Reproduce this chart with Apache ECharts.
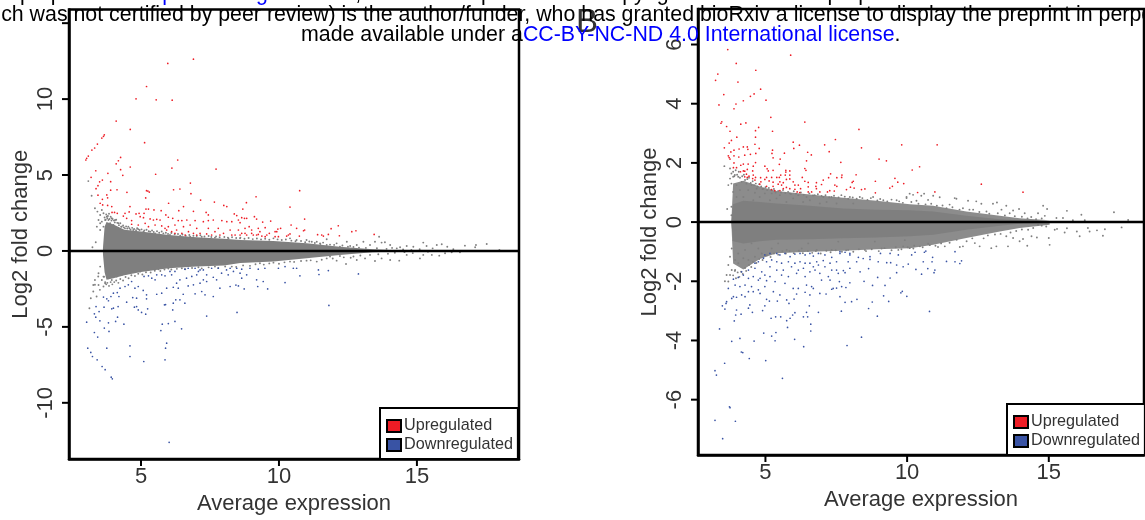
<!DOCTYPE html>
<html><head><meta charset="utf-8">
<style>html,body{margin:0;padding:0;background:#fff}#c{width:1145px;height:520px}</style>
<script src="https://cdn.jsdelivr.net/npm/echarts@6/dist/echarts.min.js"></script>
</head><body><div id="c"></div>
<script>
// ---- tick values
const aTicksX=[5,10,15], aTicksY=[-10,-5,0,5,10,15], aLabelsY=[-10,-5,0,5,10];
const bTicksX=[5,10,15], bTicksY=[-6,-4,-2,0,2,4,6], bLabelsY=[-6,-4,-2,0,2,4,6];
// ---- panel A: dense grey cloud, envelope
const aCoreX=[3.62,3.68,3.75,4.0,4.4,5,6,7,8,8.6,9.8,11,12.2,13.4,14.6];
const aCoreUp=[.2,1.6,1.9,1.75,1.4,1.28,1.05,.9,.8,.72,.66,.5,.28,.11,.02];
const aCoreLow=[-.2,-1.4,-1.9,-1.8,-1.6,-1.38,-1.14,-1.03,-.95,-.8,-.7,-.48,-.26,-.09,-.02];
const aGrey=[[3.09,4.6],[3.21,3.64],[3.33,2.81],[3.42,2.59],[3.46,2.04],[3.4,1.6],[3.52,1.38],[3.36,.57],[3.24,.24],[3.58,2.7],[3.64,2.48],[3.52,2.37],[3.7,2.04],[3.58,1.93],[3.52,1.82],[3.76,2.26],[3.82,2.04],[3.94,2.15],[4.06,2.04],[4.18,1.82],[3.64,1.6],[3.88,1.82],[4,1.71],[4.3,1.6],[4.42,1.49],[4.54,1.6],[4.72,1.38],[4.9,1.43],[5.09,1.27],[5.33,1.27],[5.51,1.16],[5.81,1.16],[6.05,1.05],[6.42,1.01],[6.78,.94],[7.2,.94],[7.68,.88],[8.17,.83],[8.59,.83],
[3.52,-1.03],[3.46,-1.47],[3.33,-1.91],[3.27,-2.24],[3.46,-2.24],[3.58,-1.91],[3.64,-1.69],[3.7,-2.13],[3.82,-1.8],[3.94,-1.91],[4.12,-1.69],[4.3,-1.58],[4.48,-1.47],[4.72,-1.36],[4.97,-1.36],[5.27,-1.25],[5.63,-1.2],[5.99,-1.16],[6.48,-1.14],[7.08,-1.07],[7.68,-1.03],[8.29,-1.03],[3.45,-1.68],[3.33,-2.23],[3.27,-2.67],[3.18,-3.11],[3.13,-3.77],[3.51,-2.56],[3.39,-3],[3.64,-2.34],
[11,.72],[11.37,.61],[11.73,.77],[12.09,.5],[12.46,.61],[12.82,.39],[13.06,.61],[13.3,.39],[13.63,.94],[13.48,.61],[13.72,.55],[13.84,.57],[14.03,.39],[14.27,.17],[14.39,.24],[14.63,.33],[14.87,.28],[15.23,.55],[15.35,.33],[15.57,.17],[15.72,.39],[15.9,.44],[16.1,.28],[16.32,.11],[16.74,.35],[17.11,.24],[17.14,.39],[17.53,.46],[17.99,.06],[16.56,-.09],[12.58,.33],[12.21,.28],[11.73,.39],[11.49,.5],[11.19,.61],[10.64,.72],[10.4,.83],[9.8,.83],
[11,-.64],[11.37,-.7],[11.73,-.49],[12.09,-.64],[12.43,-.86],[12.82,-.6],[13.12,-.49],[13.48,-.66],[13.72,-.49],[14.03,-.6],[14.36,-.64],[14.63,-.26],[15.11,-.49],[15.23,-.26],[15.54,-.26],[15.81,-.31],[16.02,-.15],[16.26,-.09],[12.7,-.37],[12.21,-.33],[11.85,-.37],[10.4,-.7],[9.8,-.77],[9.31,-.81]];
const aGreyEdge=[[3.68,2.2],[3.72,2.05],[3.74,2.4],[3.78,2.15],[3.8,2.3],[3.84,2.45],[3.86,2.1],[3.9,2.25],[3.93,2],[3.97,2.1],[4.02,2],[4.05,1.88],[4.1,2.05],[4.14,1.85],[4.2,1.7],[4.25,1.82],[4.28,1.6],[4.35,1.68],[4.38,1.55],[4.46,1.62],[4.5,1.48],[4.58,1.5],[4.62,1.4],[4.68,1.52],[4.75,1.45],[4.82,1.36],[4.86,1.5],[4.95,1.38],[5.02,1.42],[5.12,1.35],[5.2,1.4],[5.28,1.3],[5.4,1.35],[5.46,1.25],[5.58,1.3],[5.66,1.2],[5.75,1.28],[5.9,1.2],[5.98,1.12],[6.1,1.18],[6.22,1.1],[6.34,1.12],[6.5,1.08],[6.62,1],[6.75,1.05],[6.9,1],[7.02,.98],[7.15,1.03],[7.3,.95],[7.45,.98],[7.55,.92],[7.72,.95],[7.85,.9],[8.02,.92],[8.15,.88],[8.3,.9],[8.45,.85],[8.6,.88],[8.75,.8],[8.9,.85],[9.05,.78],[9.2,.82],[9.35,.76],[9.5,.8],[9.65,.74],[9.95,.76],[10.1,.72],[10.25,.75],[10.45,.68],[10.6,.64],[10.8,.66],[10.95,.58],[11.1,.62],[11.3,.52],[11.5,.46],[11.6,.55],[11.85,.42],[12,.4],[12.3,.36],[12.5,.28],[12.7,.26],[12.9,.22],[13.15,.2],[13.55,.18],[13.9,.14],[14.1,.2],[14.5,.1],[14.8,.06],[15.1,.12],
[3.66,-1.7],[3.7,-2.05],[3.74,-2.2],[3.78,-2.1],[3.84,-2.3],[3.9,-2.05],[3.96,-2.2],[4.03,-2.05],[4.1,-1.95],[4.18,-2.1],[4.25,-1.85],[4.35,-1.95],[4.44,-1.72],[4.55,-1.8],[4.65,-1.6],[4.78,-1.65],[4.9,-1.5],[5.05,-1.55],[5.18,-1.4],[5.35,-1.42],[5.5,-1.3],[5.7,-1.32],[5.85,-1.22],[6.1,-1.22],[6.3,-1.18],[6.6,-1.2],[6.85,-1.12],[7.2,-1.15],[7.45,-1.08],[7.8,-1.12],[8.05,-1.02],[8.45,-1.05],[8.7,-.95],[8.95,-.98],[9.15,-.88],[9.45,-.9],[9.65,-.82],[10,-.84],[10.2,-.75],[10.55,-.72],[10.8,-.66],[11.15,-.62],[11.55,-.58],[11.95,-.5],[12.35,-.42],[12.6,-.45],[12.95,-.3],[13.3,-.26],[13.6,-.22],[13.95,-.18],[14.2,-.12],[14.55,-.08],[14.85,-.14],[15.4,-.06]];
const aUp=[[6.9,12.63],[5.97,12.35],[5.2,10.83],[4.82,10.02],[5.55,9.95],[6.13,9.93],[4.1,8.55],[4.61,8],[3.67,7.65],[3.64,7.55],[3.58,7.43],[5.13,7.13],[3.42,7.04],[3.32,6.78],[3.22,6.64],[3.09,6.25],[3.03,6.1],[3,5.99],[6.33,5.99],[4.26,6.16],[4.18,5.94],[4.1,5.74],[4.61,5.53],[6.12,5.46],[7.72,5.39],[4.26,5.35],[3.36,5.28],[3.8,5.11],[5.53,5.05],[4.34,4.98],[3.19,4.85],[3.6,4.67],[3.9,4.56],[3.5,4.55],[3.44,4.3],[3.37,4.1],[6.79,4.47],[3.9,4],[4.13,4.03],[4.49,3.86],[5.25,3.94],[5.3,3.88],[5.2,3.97],[6.18,4.03],[6.41,4.08],[6.81,3.77],[10.75,3.97],[9.17,3.57],[5.17,3.49],[3.44,3.67],[3.76,3.69],[3.79,3.5],[3.6,3.4],[7.16,3.35],
[3.52,3.14],[3.61,3.03],[3.79,3],[3.94,2.92],[4.04,2.54],[4.14,2.48],[3.95,2.54],[4.6,2.92],[4.57,2.57],[5.18,2.76],[5.27,2.76],[5.47,2.7],[5.73,2.65],[5.9,2.37],[6,3.14],[6.37,2.65],[6.54,2.92],[6.9,2.61],[7.36,2.54],[7.44,2.37],[7.66,3.22],[8,3],[8.11,2.92],[8.38,2.44],[8.47,2.33],[8.65,2.19],[4.42,2.48],[4.36,2.3],[4.48,2.15],[4.66,2],[4.82,2.44],[4.93,2.48],[5.11,2.48],[4.97,2.26],[5.09,2.19],[5.33,2.11],[5.45,2.04],[5.57,2.08],[5.69,2.04],[5.99,2.22],[6.15,2.15],[6.35,2],[6.48,2],[6.66,2.04],[6.96,2],[7.26,1.93],[7.44,2],[7.62,2.04],[7.93,2],[8.11,1.93],[8.29,1.93],[8.53,2.04],[8.59,1.86],[4.66,1.76],[4.9,1.71],[5.15,1.82],[5.27,1.6],[5.51,1.71],[5.75,1.65],[5.99,1.6],[6.23,1.71],[6.54,1.6],[6.78,1.71],[7.02,1.49],[7.44,1.49],[7.8,1.49],[8.23,1.38],[8.53,1.38],[5.93,1.38],[6.11,1.27],[6.29,1.38],[6.48,1.16],[6.72,1.27],[6.9,1.16],[7.14,1.16],[7.38,1.12],[7.68,1.27],[7.99,1.16],[8.29,1.05],[8.65,1.16],[5.87,1.49],[6.23,1.16],[6.6,1.05],[7.02,1.05],[7.56,1.05],[7.86,1.05],[8.41,1.05],
[8.82,3.18],[8.69,2.76],[10.4,2.89],[8.75,2.15],[9.11,2.26],[8.83,2.15],[9.19,2.1],[9.41,1.9],[9.7,1.97],[10.93,2.1],[10.44,1.71],[12.15,1.66],[10.64,1.49],[8.92,1.6],[8.77,1.49],[9.5,1.53],[10.06,1.49],[9.96,1.44],[11.89,1.47],[10.89,1.33],[10.93,1.38],[9.01,1.38],[9.25,1.49],[9.31,1.27],[12.79,1.33],[12.64,1.27],[9.92,1.27],[9.86,1.27],[13.45,1.09],[12.19,1],[11.79,1.09],[11.4,1.07],[11.55,1.05],[11.61,.98],[10.4,1.12],[10.34,1.05],[10.74,.98],[9.65,1.16],[9.56,1.05],[8.59,1.05],[8.77,1.16],[8.83,1.05],[9.01,1.16],[9.07,1.05],[9.19,1.05],[9.25,1.09],[9.38,.98],[9.5,.94],[9.86,.94],[9.98,.94],[10.28,.98]];
const aDown=[[6.02,-12.6],[3.03,-4.69],[3.07,-6.4],[3.18,-6.68],[3.24,-6.95],[3.41,-7.17],[3.59,-7.61],[3.7,-7.82],[3.92,-8.31],[3.96,-8.42],[3.76,-6.4],[4.6,-6.25],[4.6,-6.95],[5.1,-7.28],[5.87,-7.17],[5.89,-6.4],[5.93,-6.07],[5.72,-5.24],[5.77,-4.82],[5.99,-4.78],[6.23,-4.64],[6.47,-5.13],[7.38,-4.29],[8.48,-4.05],[11.81,-3.59],[3.31,-4.14],[3.36,-4.36],[3.48,-3.99],[3.31,-5.37],[3.43,-5.67],[3.51,-4.6],[3.67,-5.08],[3.82,-4.73],[3.84,-5.3],[4.08,-4.64],[4.15,-4.36],[4.38,-4.82],[3.66,-3.7],[3.94,-3.81],[4,-3.77],[3.37,-3.66],[3.64,-3.04],[3.76,-3.15],[3.82,-3.28],[3.91,-3],[4.17,-3.66],[4.2,-3],[4.48,-3.37],[4.7,-3.07],[4.84,-3.11],[4.76,-3.7],[4.84,-3.66],[4.9,-3.88],[5.02,-4.05],[5.17,-4.16],[5.2,-3.15],[5.24,-3.81],[5.85,-3.55],[5.89,-3.53],[6.15,-3.88],[6.17,-3.44],[6.26,-3.22],[6.41,-3.22],[6.53,-2.85],[6.59,-3.44],[6.96,-2.82],[7.2,-2.67],[7.32,-2.89],[7.62,-3],[7.86,-2.45],[8.23,-2.34],[8.44,-2.25],[8.53,-2.3],[8.74,-2.5],[9.23,-2.34],[9.59,-2.5],[10.22,-2.08],[10.76,-1.64],[11.43,-1.25],[11.45,-1.55],[11.79,-1.29],[12.88,-1.51],
[4,-2.78],[4.14,-2.74],[4.24,-2.45],[4.42,-2.34],[4.54,-2.23],[4.66,-2.01],[4.78,-2.45],[4.9,-2.34],[5.08,-2.6],[5.11,-1.68],[5.27,-1.64],[5.39,-1.79],[5.51,-1.9],[5.57,-1.57],[5.75,-1.57],[5.87,-1.64],[6.05,-1.35],[6.11,-1.57],[6.23,-1.35],[6.41,-1.9],[6.59,-1.2],[6.71,-1.14],[6.96,-1.14],[7.08,-1.35],[7.26,-1.25],[7.38,-1.57],[7.56,-1.14],[7.8,-1.14],[8.23,-1.14],[8.47,-1.14],[8.65,-1.2],[8.95,-1.14],[9.25,-1.2],[9.49,-1.14],[9.98,-1.14],[10.22,-1.03],[10.52,-1.14],[10.64,-1.14],[5.93,-2.45],[6.17,-2.39],[6.35,-2.45],[6.71,-2.3],[6.9,-2.23],[7.14,-2.12],[7.38,-2.01],[7.74,-1.9],[8.16,-1.57],[8.65,-1.79],[9.19,-1.9],[9.43,-2.01],[5.2,-2.89],[5.57,-2.85],[5.75,-2.78],[7.14,-1.25],[7.26,-1.9],[7.62,-1.73],[7.92,-1.46],[8.1,-1.25],[8.35,-1.35],[8.59,-1.46],[8.83,-1.57],[6.65,-1.79],[6.84,-1.68],[7.02,-1.57],[6.29,-2.12]];
// ---- panel B
const bCoreX=[3.8,3.86,4.22,4.8,5.39,6.57,7.74,8.92,10.1,10.92,12.09,13.27,13.97,15.03];
const bOuterUp=[.1,1.3,1.4,1.2,1.05,.93,.82,.72,.6,.55,.36,.21,.13,.06];
const bInnerUp=[.05,.6,.72,.68,.63,.55,.46,.42,.4,.36,.21,.1,.05,.02];
const bOuterLow=[-.1,-1.4,-1.6,-1.25,-1.05,-1,-.97,-.92,-.88,-.77,-.54,-.32,-.2,-.09];
const bInnerLow=[-.05,-.65,-.72,-.65,-.6,-.58,-.55,-.52,-.48,-.43,-.26,-.12,-.06,-.02];
const bGrey=[[3.55,1.89],[3.75,1.81],[3.8,1.64],[3.75,1.47],[3.69,1.25],[3.86,1.53],[3.92,1.59],[4.04,1.53],[3.8,1.3],[3.98,1.25],[4.16,1.36],[4.33,1.3],[4.51,1.25],[4.69,1.13],[4.92,1.13],[3.86,1.02],[4.1,1.08],[4.39,1.08],[4.63,.99],[4.98,.97],[5.22,.97],[5.51,.91],[5.86,.97],[6.16,.91],[6.45,.85],[6.74,.91],[7.04,.85],[7.33,.85],[7.68,.91],[7.98,.85],[8.33,.85],[8.8,.85],[9.16,.74],[9.63,.74],[9.98,.85],[3.65,.44],[3.8,.52],[3.8,.23],[3.86,.12],[4.22,.85],[4.57,.74],[5.16,.74],[5.74,.68],[6.33,.68],[6.92,.63],[7.51,.63],[8.1,.63],[3.98,.85],[4.8,.85],[5.39,.8],[5.98,.8],[6.57,.74],[7.16,.68],
[10.09,.96],[10.21,.92],[10.5,.89],[10.6,.96],[9.98,.81],[10.33,.72],[10.92,.89],[10.74,.75],[11.15,.84],[11.68,.81],[11.74,.79],[12.15,.72],[12.44,.7],[12.62,.62],[13.03,.62],[13.17,.66],[13.5,.55],[13.33,.42],[13.74,.39],[13.95,.44],[14.15,.3],[14.62,.3],[14.8,.55],[14.94,.44],[14.86,.21],[15.27,.14],[15.5,.14],[15.64,.38],[16.15,.25],[15.85,.06],[16.27,.06],[17.3,.33],[17.8,.07],[11.5,.59],[11.97,.47],[12.8,.36],[13.62,.3],[14.38,.17],[11.39,.47],[12.33,.42],
[15.03,-.77],[14.24,-.8],[14.09,-.57],[14.39,-.48],[14.58,-.52],[15,-.54],[14.91,-.15],[15.21,-.26],[15.29,-.23],[15.56,-.35],[15.64,-.21],[15.99,-.32],[16.09,-.48],[16.38,-.2],[16.44,-.32],[16.7,-.28],[16.91,-.46],[16.98,-.24],[17.57,-.18],[13.56,-.82],[13.97,-.65],[13.74,-.54],[13.15,-.82],[12.97,-.88],[12.56,-.82],[12.39,-.71],[11.97,-.82],[11.86,-.84],[11.33,-.82],[11.09,-.84],[10.74,-.73],[10.45,-.82],[10.09,-.88],[9.86,-.82],[13.5,-.48],[14.27,-.26],[14.62,-.09],
[3.93,-.27],[3.87,-.61],[3.81,-.89],[3.75,-1.17],[3.69,-1.45],[3.63,-1.79],[3.57,-2],[4.04,-1.06],[3.93,-1.28],[3.81,-1.62],[4.04,-1.39],[4.22,-1.22],[4.4,-1.28],[4.63,-1.17],[4.87,-1.06],[3.75,-1.79],[3.69,-2.01],[3.93,-1.62],[4.28,-.94],[4.75,-.89],[5.22,-.89],[5.75,-.94],[6.28,-.89],[6.81,-.94],[7.34,-.94],[7.92,-.94],[8.51,-.94],[9.1,-.89],[9.69,-.94],[10.22,-.89],[4.51,-.72],[5.45,-.72],[6.51,-.72],[7.57,-.66],[8.86,-.66],[9.92,-.61]];
const bGreyEdge=[[3.86,1.7],[3.9,1.55],[3.95,1.75],[4,1.6],[4.06,1.7],[4.1,1.5],[4.18,1.55],[4.24,1.6],[4.28,1.42],[4.36,1.45],[4.42,1.5],[4.48,1.32],[4.55,1.38],[4.6,1.25],[4.66,1.3],[4.72,1.2],[4.78,1.28],[4.85,1.2],[4.9,1.12],[5,1.18],[5.06,1.08],[5.12,1.15],[5.2,1.08],[5.3,1.12],[5.36,1],[5.45,1.05],[5.55,1],[5.62,1.08],[5.7,.98],[5.8,1.02],[5.9,.95],[6,1.04],[6.08,.96],[6.25,1],[6.35,.92],[6.55,.97],[6.68,.9],[6.85,.94],[6.98,.88],[7.12,.91],[7.25,.84],[7.42,.89],[7.58,.83],[7.8,.86],[7.92,.79],[8.08,.83],[8.22,.79],[8.42,.81],[8.6,.75],[8.72,.81],[8.95,.73],[9.05,.78],[9.3,.7],[9.45,.76],[9.72,.7],[9.85,.65],[10.15,.68],[10.4,.62],[10.65,.6],[10.85,.62],[11.05,.55],[11.25,.56],[11.6,.5],[11.85,.42],[12.2,.42],[12.55,.34],[12.9,.28],[13.2,.3],[13.45,.22],[13.8,.2],[14.05,.18],[14.25,.12],[14.55,.1],[14.75,.12],
[3.86,-1.8],[3.92,-1.65],[3.96,-1.9],[4.02,-1.7],[4.08,-1.85],[4.14,-1.68],[4.2,-1.75],[4.28,-1.55],[4.32,-1.65],[4.42,-1.45],[4.5,-1.52],[4.56,-1.35],[4.68,-1.38],[4.78,-1.25],[4.9,-1.28],[5.05,-1.12],[5.18,-1.18],[5.3,-1.06],[5.45,-1.1],[5.6,-.98],[5.72,-1.06],[5.85,-.98],[6,-1.05],[6.18,-.97],[6.32,-1.05],[6.5,-.98],[6.65,-1.04],[6.78,-.98],[6.95,-1.06],[7.15,-.97],[7.3,-1.02],[7.48,-.95],[7.7,-1],[7.85,-.95],[8.1,-1],[8.3,-.92],[8.55,-.98],[8.75,-.92],[9,-.98],[9.2,-.88],[9.45,-.95],[9.6,-.85],[9.8,-.92],[10.02,-.85],[10.25,-.8],[10.55,-.85],[10.8,-.78],[11,-.8],[11.2,-.72],[11.5,-.7],[11.75,-.6],[12.1,-.65],[12.3,-.55],[12.7,-.55],[12.85,-.45],[13.1,-.42],[13.3,-.4],[13.65,-.35],[13.85,-.3],[14.05,-.25],[14.45,-.2],[14.75,-.12]];
const bUp=[[3.67,5.83],[5.89,5.64],[10.18,1.76],[10.44,1.87],[10.37,1],[10.98,1.02],[12.62,1.28],[14.09,1.01],[11.06,2.61],[3.97,5.36],[4.66,5.13],[3.32,5],[3.24,4.79],[4.03,4.73],[4.83,4.49],[3.53,4.31],[4.6,4.33],[4.47,4.25],[4.22,4.1],[5.02,4.12],[3.96,3.99],[3.36,3.96],[3.89,3.83],[5.19,3.54],[6.39,3.38],[3.46,3.39],[3.43,3.34],[4.13,3.31],[4.31,3.35],[3.63,3.23],[4.76,3.2],[3.75,3.07],[4.65,3.09],[5.25,3.07],[8.3,3.13],[3.99,2.87],[4.65,2.87],[7.47,2.79],[3.8,2.76],[3.72,2.67],[5.98,2.7],[6.2,2.6],[7.09,2.61],[9.81,2.61],[4.63,2.63],[3.55,2.51],[4.07,2.47],[4.22,2.54],[4.36,2.54],[4.38,2.46],[4.78,2.49],[6,2.49],[8.39,2.51],[3.78,2.37],[3.89,2.43],[4.66,2.32],[5.25,2.43],[5.23,2.32],[5.67,2.33],[6.49,2.36],[7.25,2.38],[6.62,2.27],[3.69,2.24],[3.72,2.18],[3.89,2.24],[4.06,2.2],[4.27,2.26],[4.47,2.29],[5.27,2.17],[5.52,2.13],[3.75,2.13],[9.01,2.13],[9.27,2.07],[6.45,2.07],[7.66,2.02],[3.89,2],[4.13,1.92],[4.22,1.96],[4.39,1.96],[4.65,2.01],[4.57,1.89],[5.49,1.95],[4.98,1.89],[3.87,1.84],[3.98,1.84],[6.39,1.81],[6.43,1.75],[5.06,1.8],[5.1,1.73],[5.27,1.75],[5.72,1.75],[5.86,1.73],[5.72,1.69],[4.36,1.78],[4.12,1.7],[4.22,1.73],[4.27,1.72],[4.55,1.73],[4.33,1.62],[4.42,1.55],[4.57,1.59],[7.3,1.63],[7.7,1.59],[8.2,1.6],[5.86,1.59],[5.54,1.59],[5.7,1.59],[4.27,1.53],[4.36,1.51],[4.55,1.47],[4.65,1.51],[4.83,1.5],[5.04,1.51],[5.22,1.51],[5.4,1.51],[5.49,1.51],[5.74,1.44],[5.86,1.46],[6.3,1.51],[7.23,1.5],[7.52,1.5],[7.69,1.51],[4.63,1.42],[4.84,1.36],[4.98,1.44],[5.13,1.39],[5.27,1.35],[5.51,1.36],[5.63,1.33],[5.98,1.36],[6.39,1.38],[6.51,1.34],[6.8,1.33],[7.04,1.42],[8.1,1.38],[8.88,1.38],[9.57,1.48],[9.67,1.35],[9.88,1.3],[4.8,1.28],[5.04,1.21],[5.27,1.21],[5.45,1.28],[5.57,1.25],[5.74,1.17],[6.04,1.25],[6.16,1.25],[6.24,1.13],[6.51,1.19],[6.78,1.21],[6.98,1.27],[7.45,1.25],[7.52,1.21],[8.06,1.34],[8,1.18],[8.13,1.15],[9.48,1.21],[9.39,1.15],[8.51,1.12],[8.39,1.1],[7.86,1.1],[5.22,1.1],[5.33,1.06],[5.51,1.06],[5.63,1.13],[5.86,1.13],[6.04,1.11],[6.12,1.02],[6.21,1],[6.51,1.02],[6.63,1.02],[6.8,1.13],[6.92,1.02],[7.19,1.02],[7.27,1.06],[7.43,1.05],[8.88,.99]];
const bDown=[[3.22,-5.02],[3.27,-5.17],[3.56,-4.77],[3.22,-6.7],[3.94,-6.73],[3.49,-7.32],[3.73,-6.24],[3.75,-6.27],[5.6,-5.28],[5.01,-4.68],[4.43,-4.61],[4.15,-4.39],[4.2,-4.41],[3.81,-4.03],[4.1,-3.93],[4.6,-4.02],[4.94,-3.75],[5.22,-3.85],[5.34,-4.01],[5.37,-3.73],[6.03,-3.96],[6.35,-4.21],[8.39,-3.89],[7.88,-4.17],[6.6,-3.68],[6.6,-3.45],[5.78,-3.56],[3.38,-3.61],[3.9,-3.34],[5.87,-3.25],[5.96,-3.14],[6.04,-3.06],[5.2,-3.25],[5.36,-3.2],[5.54,-3.2],[6.34,-3.2],[6.49,-3.2],[6.87,-3.05],[7.68,-3.01],[8.64,-2.92],[8.95,-3.18],[10.79,-3.02],[9.35,-2.68],[9.17,-2.49],[8.77,-2.7],[8.23,-2.61],[8.04,-2.69],[7.81,-2.71],[7.63,-2.52],[9.78,-2.39],[9.83,-2.34],[9.99,-2.51],[9.22,-2.14],[8.78,-2.14],[8.48,-2],[7.98,-2.05],[7.69,-2.18],[7.84,-2.21],[7.51,-2.23],[7.34,-2.27],[9.63,-1.71],[9.4,-1.89],[8.96,-1.87],[8.64,-1.57],[8.34,-1.68],[10.31,-1.6],[10.51,-1.76],[10.73,-1.57],[10.95,-1.71],[10.98,-1.62],[10.88,-1.34],[10.9,-1.19],[10.57,-1.34],[10.04,-1.42],[9.86,-1.51],[9.63,-1.45],[9.42,-1.37],[9.28,-1.37],[8.98,-1.34],[8.69,-1.26],[8.45,-1.23],[8.28,-1.19],[8.22,-1.34],[7.98,-1.11],[7.81,-1.02],[7.63,-1],[9.69,-1.11],[9.4,-1.06],[9.06,-1.06],[8.69,-1.17],[10.16,-1.11],[10.28,-1.02],[10.61,-1.02],[10.66,-.98],[11.39,-1.33],[11.69,-1.34],[11.86,-1.4],[11.92,-1.31],[11.69,-1],
[3.95,-3.14],[4.14,-3.11],[3.98,-2.97],[4.54,-3.05],[4.9,-2.99],[4.4,-2.91],[4.45,-2.8],[4.98,-2.83],[3.48,-2.83],[3.57,-2.94],[3.63,-2.69],[3.61,-2.75],[5.04,-2.61],[5.14,-2.67],[5.42,-2.67],[5.75,-2.63],[6.01,-2.6],[5.83,-2.75],[6.45,-3.05],[6.55,-2.83],[5.75,-3.33],
[3.69,-2.24],[3.81,-2.58],[3.87,-2.52],[3.98,-2.54],[4.16,-2.46],[4.28,-2.52],[4.4,-2.35],[4.57,-2.35],[4.75,-2.29],[4.81,-2.41],[4.98,-2.18],[5.28,-2.35],[5.51,-2.46],[6.1,-2.43],[6.4,-2.37],[6.57,-2.46],[6.69,-2.24],[6.92,-2.41],[7.14,-2.43],[7.39,-2.24],[3.93,-2.13],[4.1,-2.18],[4.28,-2.13],[4.51,-2.18],[4.75,-1.96],[5.04,-1.98],[5.34,-2.01],[5.69,-2.07],[5.98,-2.24],[6.16,-2.24],[6.45,-2.13],[6.63,-2.18],[6.98,-1.96],[7.28,-1.96],[7.61,-2.01],[3.87,-1.93],[4.04,-1.87],[4.22,-1.79],[4.4,-1.9],[4.57,-1.84],[4.81,-1.9],[4.98,-1.79],[5.16,-1.84],[5.57,-1.79],[5.81,-1.84],[6.1,-1.73],[6.4,-1.84],[6.57,-1.68],[6.75,-1.62],[6.92,-1.73],[7.22,-1.84],[7.57,-1.73],[7.81,-1.71],[4.16,-1.68],[4.4,-1.62],[4.63,-1.56],[4.87,-1.68],[5.16,-1.51],[5.4,-1.62],[5.63,-1.62],[5.92,-1.51],[6.16,-1.62],[6.34,-1.56],[6.69,-1.51],[6.87,-1.45],[7.1,-1.51],[7.34,-1.62],[7.51,-1.62],[7.75,-1.64],[7.98,-1.56],[4.63,-1.39],[4.75,-1.34],[4.93,-1.22],[5.04,-1.34],[5.22,-1.28],[5.4,-1.34],[5.57,-1.39],[5.81,-1.34],[6.04,-1.39],[6.22,-1.34],[6.4,-1.39],[6.57,-1.39],[6.81,-1.34],[7.04,-1.3],[7.28,-1.39],[7.51,-1.34],[7.92,-1.34],[4.98,-1.11],[5.16,-1.06],[5.4,-1.06],[5.51,-1.11],[5.69,-1.06],[5.87,-1.17],[6.04,-1.08],[6.22,-1.06],[6.4,-1.11],[6.57,-1.06],[6.69,-1.15],[6.87,-1.06],[7.1,-1.11],[7.34,-1.19],[7.63,-1.06],[7.98,-1.06]];
// ---- text
const legendNames=['Upregulated','Downregulated'];
const xTitle='Average expression', yTitle='Log2 fold change', panelLetter='B';
const bannerTop='bioRxiv preprint doi: ', bannerLink='https://doi.org/10.1101/', bannerTail='; this version posted. The copyright holder for this preprint';
const bannerMid='(which was not certified by peer review) is the author/funder, who has granted bioRxiv a license to display the preprint in perpetuity. It is';
const bannerLow='made available under a', bannerLicense='CC-BY-NC-ND 4.0 International license', bannerEnd='.';

const GREY='#7f7f7f', RED='#ee1c25', BLUE='#3953a4', INK='#333333', FONT='"Liberation Sans",Arial,sans-serif';
const zip=(xs,ys)=>xs.map((x,i)=>[x,ys[i]]);
const area=(xi,xs,ys,op)=>({type:'line',xAxisIndex:xi,yAxisIndex:xi,data:zip(xs,ys),symbol:'none',silent:true,z:2,
  lineStyle:{width:0},itemStyle:{color:GREY},areaStyle:{color:GREY,opacity:op,origin:0},animation:false});
const pts=(xi,data,color,name,z,size)=>({type:'scatter',name,xAxisIndex:xi,yAxisIndex:xi,data,symbolSize:size,z,silent:true,
  itemStyle:{color,opacity:1},animation:false,large:false});
const axisLine={show:true,onZero:false,lineStyle:{color:'#000',width:2.5}};
const xAxis=(i,min,max,ticks,gap)=>({type:'value',gridIndex:i,min,max,position:'bottom',splitLine:{show:false},axisLine,
  axisTick:{show:false},
  axisLabel:{customValues:ticks,color:INK,fontSize:22,fontFamily:FONT,margin:7,hideOverlap:false},
  name:xTitle,nameLocation:'middle',nameGap:gap,nameTextStyle:{color:INK,fontSize:22,fontFamily:FONT}});
const yAxis=(i,min,max,labels,gap)=>({type:'value',gridIndex:i,min,max,position:'left',splitLine:{show:false},axisLine,
  axisTick:{show:false},
  axisLabel:{customValues:labels,rotate:90,color:INK,fontSize:22,fontFamily:FONT,margin:12,hideOverlap:false},
  name:yTitle,nameLocation:'middle',nameGap:gap,nameTextStyle:{color:INK,fontSize:22,fontFamily:FONT}});
const legend=(left,top)=>({show:true,orient:'vertical',left,top,selectedMode:false,backgroundColor:'#fff',borderColor:'#000',borderWidth:2,
  padding:[10,5,6,6],itemWidth:14,itemHeight:12,itemGap:3,z:20,
  textStyle:{color:INK,fontSize:16.2,fontFamily:FONT,padding:[2,0,0,-2]},
  data:[{name:legendNames[0],icon:'rect',itemStyle:{color:RED,borderColor:'#000',borderWidth:2}},
        {name:legendNames[1],icon:'rect',itemStyle:{color:BLUE,borderColor:'#000',borderWidth:2}}]});
const zero=(xi,min,max)=>({type:'line',xAxisIndex:xi,yAxisIndex:xi,data:[[min,0],[max,0]],symbol:'none',silent:true,z:10,
  lineStyle:{color:'#000',width:2.5},animation:false});

const chart=echarts.init(document.getElementById('c'),null,{renderer:'canvas'});
chart.setOption({animation:false,backgroundColor:'#fff',tooltip:{show:false},
 grid:[{left:69,top:9.5,width:450,height:449.5,show:true,borderColor:'#000',borderWidth:2.5,backgroundColor:'transparent',outerBoundsMode:'none'},
       {left:698,top:9,width:446,height:446,show:true,borderColor:'#000',borderWidth:2.5,backgroundColor:'transparent',outerBoundsMode:'none'}],
 xAxis:[xAxis(0,2.39,18.7,aTicksX,32),xAxis(1,2.62,18.36,bTicksX,31)],
 yAxis:[yAxis(0,-13.7,15.9,aLabelsY,37),yAxis(1,-7.87,7.2,bLabelsY,37)],
 legend:[legend(380,408),legend(1007,404)],
 series:[
  area(0,aCoreX,aCoreUp,1),area(0,aCoreX,aCoreLow,1),
  pts(0,aGrey,GREY,'A unchanged',3,1.9),pts(0,aGreyEdge,GREY,'A unchanged edge',3,1.9),pts(0,aUp,RED,legendNames[0],4,1.7),pts(0,aDown,BLUE,legendNames[1],4,1.7),zero(0,2.39,18.7),
  area(1,bCoreX,bOuterUp,.9),area(1,bCoreX,bOuterLow,.9),area(1,bCoreX,bInnerUp,1),area(1,bCoreX,bInnerLow,1),
  pts(1,bGrey,GREY,'B unchanged',3,1.9),pts(1,bGreyEdge,GREY,'B unchanged edge',3,1.9),pts(1,bUp,RED,legendNames[0],4,1.7),pts(1,bDown,BLUE,legendNames[1],4,1.7),zero(1,2.62,18.36)
 ]});

// Tick marks: pixel positions come from the axis scales via convertToPixel
const TICK=7;
const tickLines=(xi,xVals,yVals,xMin,yMin)=>{
  const finder={xAxisIndex:xi,yAxisIndex:xi}, out=[];
  xVals.forEach(v=>{const p=chart.convertToPixel(finder,[v,yMin]);
    out.push({type:'line',z:60,silent:true,shape:{x1:p[0],y1:p[1],x2:p[0],y2:p[1]+TICK},style:{stroke:'#000',lineWidth:2}});});
  yVals.forEach(v=>{const p=chart.convertToPixel(finder,[xMin,v]);
    out.push({type:'line',z:60,silent:true,shape:{x1:p[0],y1:p[1],x2:p[0]-TICK,y2:p[1]},style:{stroke:'#000',lineWidth:2}});});
  return out;};
chart.setOption({graphic:[
  ...tickLines(0,aTicksX,aTicksY,2.39,-13.7),
  ...tickLines(1,bTicksX,bTicksY,2.62,-7.87),
  {type:'text',x:-56,y:-16,z:100,silent:true,style:{text:'{k|'+bannerTop+'}{b|'+bannerLink+'}{k|'+bannerTail+'}',rich:{k:{fill:'#000',font:'21.35px '+FONT},b:{fill:'#00f',font:'21.35px '+FONT}}}},
  {type:'text',x:-38,y:5,z:100,silent:true,style:{text:bannerMid,fill:'#000',font:'21.35px '+FONT}},
  {type:'text',x:301,y:25,z:100,silent:true,style:{text:'{k|'+bannerLow+'}{b|'+bannerLicense+'}{k|'+bannerEnd+'}',rich:{k:{fill:'#000',font:'21.35px '+FONT},b:{fill:'#00f',font:'21.35px '+FONT}}}},
  {type:'text',x:576,y:6,z:90,silent:true,style:{text:panelLetter,fill:INK,font:'33px '+FONT}}
 ]});
</script></body></html>
